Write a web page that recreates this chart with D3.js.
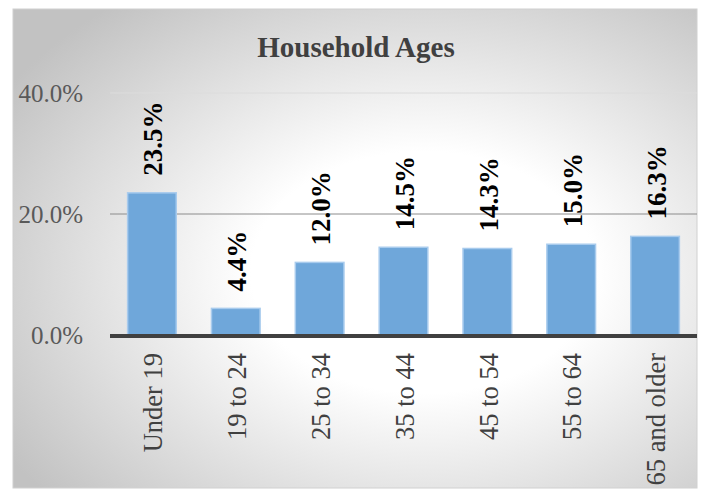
<!DOCTYPE html>
<html>
<head>
<meta charset="utf-8">
<script src="https://cdn.jsdelivr.net/npm/d3@7"></script>
<style>
  body { margin: 0; background: #fff; }
  text { font-family: "Liberation Serif", "Times New Roman", serif; }
</style>
</head>
<body>
<div id="chart"></div>
<script>
// Data
const categories = ["Under 19", "19 to 24", "25 to 34", "35 to 44", "45 to 54", "55 to 64", "65 and older"];
const shares = [23.5, 4.4, 12.0, 14.5, 14.3, 15.0, 16.3];
const yTicks = [0, 20, 40];

const W = 703, H = 489;
const frame = { x: 13, y: 9, w: 684, h: 479 };
const plot = { left: 110, right: 697, top: 93, bottom: 335 };

const svg = d3.select("#chart")
    .append("svg")
    .attr("width", W)
    .attr("height", H);

// radial background like the spreadsheet chart area
const grad = svg.append("defs").append("radialGradient")
    .attr("id", "bg")
    .attr("cx", "60%").attr("cy", "55%").attr("r", "72%");
grad.append("stop").attr("offset", "0%").attr("stop-color", "#ffffff");
grad.append("stop").attr("offset", "35%").attr("stop-color", "#ffffff");
grad.append("stop").attr("offset", "100%").attr("stop-color", "#c2c2c2");

svg.append("rect")
    .attr("x", frame.x).attr("y", frame.y)
    .attr("width", frame.w).attr("height", frame.h)
    .attr("fill", "url(#bg)")
    .attr("stroke", "#d0d0d0");

// Scales
const x = d3.scaleBand()
    .domain(categories)
    .range([plot.left, plot.right])
    .paddingInner(0.42)
    .paddingOuter(0.21);

const y = d3.scaleLinear()
    .domain([0, 40])
    .range([plot.bottom, plot.top]);

// Gridlines
svg.append("g")
    .selectAll("line")
    .data(yTicks.filter(d => d > 0))
    .join("line")
    .attr("x1", plot.left).attr("x2", plot.right)
    .attr("y1", d => y(d)).attr("y2", d => y(d))
    .attr("stroke", d => d === 20 ? "#8c8c8c" : "#dcdcdc")
    .attr("stroke-width", 1);

// Y axis labels
const yAxis = svg.append("g")
    .attr("transform", `translate(${plot.left},0)`)
    .call(d3.axisLeft(y).tickValues(yTicks).tickSize(0).tickPadding(27)
        .tickFormat(d => d3.format(".1f")(d) + "%"));
yAxis.select(".domain").remove();
yAxis.selectAll("text")
    .style("font-family", "'Liberation Serif', serif")
    .style("font-size", "25px")
    .attr("fill", "#595959");

// Bars
svg.append("g")
    .selectAll("rect")
    .data(shares)
    .join("rect")
    .attr("x", (d, i) => x(categories[i]))
    .attr("y", d => y(d))
    .attr("width", x.bandwidth())
    .attr("height", d => plot.bottom - y(d))
    .attr("fill", "#6fa7da")
    .attr("stroke", "#a8cbed")
    .attr("stroke-width", 1.5);

// Value labels, rotated
svg.append("g")
    .selectAll("text")
    .data(shares)
    .join("text")
    .attr("transform", (d, i) => `translate(${x(categories[i]) + x.bandwidth() / 2 + 1},${y(d) - 17}) rotate(-90)`)
    .attr("dy", "0.35em")
    .attr("text-anchor", "start")
    .attr("font-size", "27px")
    .attr("font-weight", "bold")
    .attr("fill", "#000")
    .text(d => d3.format(".1f")(d) + "%");

// Zero axis line
svg.append("line")
    .attr("x1", plot.left).attr("x2", plot.right)
    .attr("y1", y(0) + 1).attr("y2", y(0) + 1)
    .attr("stroke", "#404040")
    .attr("stroke-width", 4);

// Category labels
const xAxis = svg.append("g")
    .attr("transform", `translate(0,${plot.bottom})`)
    .call(d3.axisBottom(x).tickSize(0).tickPadding(0));
xAxis.select(".domain").remove();
xAxis.selectAll("text")
    .attr("transform", "translate(1,18) rotate(-90)")
    .attr("x", 0).attr("y", 0)
    .attr("dy", "0.35em")
    .attr("text-anchor", "end")
    .style("font-family", "'Liberation Serif', serif")
    .style("font-size", "26.5px")
    .attr("fill", "#404040");

// Title
svg.append("text")
    .attr("x", 356).attr("y", 57)
    .attr("text-anchor", "middle")
    .attr("font-size", "29px")
    .attr("font-weight", "bold")
    .attr("fill", "#404040")
    .text("Household Ages");
</script>
</body>
</html>
